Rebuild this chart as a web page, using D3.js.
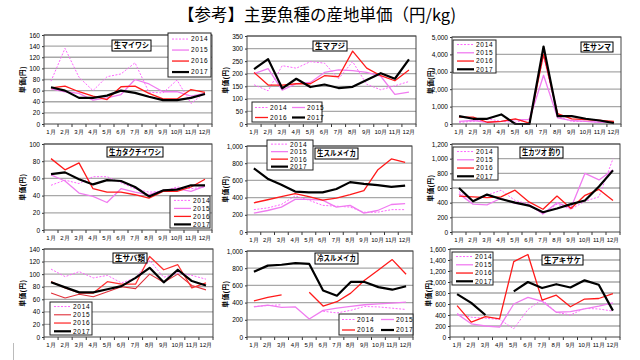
<!DOCTYPE html>
<html><head><meta charset="utf-8">
<script src="https://cdn.jsdelivr.net/npm/d3@7/dist/d3.min.js"></script>
<style>
html,body{margin:0;padding:0;background:#fff;}
svg{display:block;font-family:"Liberation Sans","Noto Sans CJK JP",sans-serif;}
</style></head><body>
<svg id="c" width="640" height="360"></svg>
<script>
const months = ["1月","2月","3月","4月","5月","6月","7月","8月","9月","10月","11月","12月"];
const years = ["2014","2015","2016","2017"];

// 生マイワシ
const maiwashi2014 = [77,136,84,60,85,90,110,57,56,79,37,56];
const maiwashi2015 = [63,58,55,43,47,53,80,72,58,58,50,55];
const maiwashi2016 = [65,68,58,50,44,67,68,55,45,45,62,57];
const maiwashi2017 = [66,60,47,47,51,60,56,49,43,43,47,54];
// 生マアジ
const maaji2014 = [156,132,232,222,248,242,180,248,158,136,152,169];
const maaji2015 = [200,220,135,160,165,205,215,212,205,190,118,127];
const maaji2016 = [205,155,155,160,160,192,188,290,222,192,172,215];
const maaji2017 = [218,258,142,180,147,157,143,148,175,202,180,257];
// 生サンマ
const sanma2014 = [100,150,300,150,100,300,3900,450,150,150,100,100];
const sanma2015 = [150,200,100,150,250,250,2800,350,200,150,100,100];
const sanma2016 = [400,400,100,150,300,50,4000,600,300,250,200,150];
const sanma2017 = [450,300,300,550,0,0,4450,450,450,300,200,50];
// 生カタクチイワシ
const katakuchi2014 = [52,58,54,62,62,55,48,44,45,50,48,50];
const katakuchi2015 = [64,57,43,39,32,48,44,41,46,48,45,51];
const katakuchi2016 = [83,70,78,48,44,44,41,37,45,45,50,59];
const katakuchi2017 = [65,67,59,53,58,57,50,39,46,47,52,52];
// 生スルメイカ
const surume2014 = [260,280,320,420,370,310,300,290,230,230,260,260];
const surume2015 = [220,250,290,380,380,370,290,310,220,250,320,330];
const surume2016 = [340,375,410,445,410,370,395,435,480,720,850,810];
const surume2017 = [740,620,550,470,460,460,500,580,560,545,525,540];
// 生カツオ釣り
const katsuo2014 = [550,420,500,570,430,380,240,380,310,420,480,1000];
const katsuo2015 = [520,380,370,460,390,370,250,400,330,800,710,850];
const katsuo2016 = [490,480,470,480,570,410,310,490,320,500,580,430];
const katsuo2017 = [600,420,510,450,400,360,270,320,380,430,620,840];
// 生サバ類
const saba2014 = [108,96,104,94,98,86,94,122,95,102,98,92];
const saba2015 = [70,62,68,64,72,80,77,100,87,100,82,75];
const saba2016 = [88,78,70,70,88,84,84,128,107,115,78,86];
const saba2017 = [87,79,71,71,76,81,94,110,87,107,89,82];
// 冷スルメイカ
const reisurume2014 = [355,365,375,null,null,300,280,310,355,350,335,320];
const reisurume2015 = [350,370,345,350,210,310,335,355,375,385,395,405];
const reisurume2016 = [420,460,490,null,520,360,410,510,660,780,900,730];
const reisurume2017 = [760,830,840,860,850,540,480,640,640,580,550,590];
// 生アキサケ
const akisake2014 = [420,360,340,320,150,500,680,450,400,520,510,470];
const akisake2015 = [420,240,200,180,600,720,650,450,460,510,560,620];
const akisake2016 = [570,270,370,330,1370,1500,670,760,550,690,700,790];
const akisake2017 = [780,620,400,null,830,1000,890,960,900,1030,950,480];

const styles = {
  "2014": {color:"#ff66ff", w:1, dash:"2,1.5"},
  "2015": {color:"#f07cf0", w:1.3, dash:null},
  "2016": {color:"#ff1a1a", w:1.3, dash:null},
  "2017": {color:"#000000", w:2.2, dash:null}
};
const sabaStyles = Object.assign({}, styles, {"2015": {color:"#e0303a", w:1.1, dash:null}, "2016": {color:"#ff3333", w:1.3, dash:null}});

const panels = [
 {name:"生マイワシ", series:[maiwashi2014,maiwashi2015,maiwashi2016,maiwashi2017], ymax:160, step:20, x0:44, x1:212, yt:35, yb:124, leg:{x:168,y:33,w:43,h:44,type:"col"}, tb:{x:112,y:40,w:39,h:11}},
 {name:"生マアジ", series:[maaji2014,maaji2015,maaji2016,maaji2017], ymax:350, step:50, x0:247, x1:416, yt:36, yb:124, leg:{x:252,y:102,w:70,h:20,type:"grid"}, tb:{x:313,y:41,w:34,h:10}},
 {name:"生サンマ", series:[sanma2014,sanma2015,sanma2016,sanma2017], ymax:5000, step:1000, x0:452, x1:621, yt:37, yb:124, leg:{x:453,y:40,w:43,h:33,type:"col"}, tb:{x:581,y:42,w:32,h:10}},
 {name:"生カタクチイワシ", series:[katakuchi2014,katakuchi2015,katakuchi2016,katakuchi2017], ymax:100, step:20, x0:44, x1:212, yt:144, yb:230, leg:{x:170,y:196,w:40,h:32,type:"col"}, tb:{x:107,y:147,w:56,h:10}},
 {name:"生スルメイカ", series:[surume2014,surume2015,surume2016,surume2017], ymax:1000, step:200, x0:247, x1:412, yt:146, yb:232, leg:{x:267,y:140,w:46,h:30,type:"col"}, tb:{x:315,y:148,w:43,h:11}},
 {name:"生カツオ 釣り", series:[katsuo2014,katsuo2015,katsuo2016,katsuo2017], ymax:1200, step:200, x0:452, x1:620, yt:144, yb:232, leg:{x:453,y:147,w:45,h:33,type:"col"}, tb:{x:520,y:147,w:43,h:11}},
 {name:"生サバ類", series:[saba2014,saba2015,saba2016,saba2017], ymax:140, step:20, x0:44, x1:213, yt:249, yb:337, leg:{x:50,y:302,w:42,h:33,type:"col"}, tb:{x:113,y:253,w:34,h:10}, styles:sabaStyles},
 {name:"冷スルメイカ", series:[reisurume2014,reisurume2015,reisurume2016,reisurume2017], ymax:1000, step:200, x0:247, x1:413, yt:251, yb:337, leg:{x:339,y:314,w:74,h:21,type:"grid"}, tb:{x:315,y:253,w:43,h:11}},
 {name:"生アキサケ", series:[akisake2014,akisake2015,akisake2016,akisake2017], ymax:1600, step:200, x0:450, x1:620, yt:249, yb:337, leg:{x:452,y:252,w:41,h:33,type:"col"}, tb:{x:542,y:255,w:41,h:10}}
];

const svg = d3.select("#c");

svg.append("text").attr("x",317).attr("y",21).attr("text-anchor","middle")
  .attr("font-size",16.5).attr("font-family","'Noto Sans CJK JP',sans-serif").attr("fill","#000")
  .text("【参考】主要魚種の産地単価（円/kg)");

panels.forEach(p => {
  const st = p.styles || styles;
  const g = svg.append("g");
  const x = d3.scaleBand().domain(months).range([p.x0, p.x1]).paddingInner(0).paddingOuter(0);
  const y = d3.scaleLinear().domain([0, p.ymax]).range([p.yb, p.yt]);
  const ticks = d3.range(0, p.ymax + p.step/2, p.step);
  const fmt = p.ymax >= 1000 ? d3.format(",") : d3.format("d");

  g.append("rect").attr("x",p.x0).attr("y",p.yt).attr("width",p.x1-p.x0).attr("height",p.yb-p.yt).attr("fill","#fff");
  g.selectAll("line.grid").data(ticks.filter(t => t>0)).join("line")
    .attr("x1",p.x0).attr("x2",p.x1).attr("y1",d=>y(d)).attr("y2",d=>y(d))
    .attr("stroke","#a8a8a8").attr("stroke-width",1.3);

  const ya = g.append("g").attr("transform",`translate(${p.x0},0)`)
    .call(d3.axisLeft(y).tickValues(ticks).tickFormat(fmt).tickSize(2).tickPadding(2));
  ya.select(".domain").remove();
  ya.selectAll("line").attr("stroke","#333");
  ya.selectAll("text").attr("font-size",6.5).attr("fill","#000").attr("font-family","'Liberation Sans',sans-serif");

  const xa = g.append("g").attr("transform",`translate(0,${p.yb})`)
    .call(d3.axisBottom(x).tickSize(0).tickPadding(6));
  xa.select(".domain").remove();
  xa.selectAll("text").attr("font-size",6).attr("fill","#000");
  g.selectAll("line.xt").data(d3.range(13)).join("line")
    .attr("x1",i=>p.x0 + i*x.step()).attr("x2",i=>p.x0 + i*x.step())
    .attr("y1",p.yb).attr("y2",p.yb+3).attr("stroke","#333").attr("stroke-width",1);

  g.append("text").attr("transform",`translate(${p.x0-19},${(p.yt+p.yb)/2}) rotate(-90)`)
    .attr("text-anchor","middle").attr("font-size",6.5).attr("font-weight","bold").attr("fill","#000")
    .attr("letter-spacing",0.6).text("単価(円)");

  const line = d3.line().defined(d => d.v != null)
    .x(d => x(d.m) + x.bandwidth()/2).y(d => y(d.v));
  p.series.forEach((s, i) => {
    const yr = years[i], sty = st[yr];
    g.append("path").datum(months.map((m,j)=>({m, v:s[j]})))
      .attr("d", line).attr("fill","none").attr("stroke",sty.color)
      .attr("stroke-width",sty.w).attr("stroke-dasharray",sty.dash)
      .attr("stroke-linejoin","round");
  });

  g.append("rect").attr("x",p.x0).attr("y",p.yt).attr("width",p.x1-p.x0).attr("height",p.yb-p.yt)
    .attr("fill","none").attr("stroke","#444").attr("stroke-width",1);

  const L = p.leg;
  const lg = g.append("g");
  lg.append("rect").attr("x",L.x).attr("y",L.y).attr("width",L.w).attr("height",L.h)
    .attr("fill","#fff").attr("stroke","#222").attr("stroke-width",1);
  years.forEach((yr,i) => {
    const sty = st[yr];
    let lx, ly, len;
    if (L.type === "grid") {
      len = 13;
      lx = L.x + 3 + (i%2)*(L.w/2 + 2);
      ly = L.y + 5.5 + Math.floor(i/2)*(L.h/2);
    } else {
      len = 17;
      lx = L.x + 4;
      ly = L.y + (i+0.55)*(L.h/4);
    }
    lg.append("line").attr("x1",lx).attr("x2",lx+len).attr("y1",ly).attr("y2",ly)
      .attr("stroke",sty.color).attr("stroke-width",sty.w).attr("stroke-dasharray",sty.dash);
    lg.append("text").attr("x",lx+len+2).attr("y",ly+2.4).attr("font-size",6.5).attr("letter-spacing",0.7)
      .attr("fill","#000").text(yr);
  });

  const T = p.tb;
  g.append("rect").attr("x",T.x).attr("y",T.y).attr("width",T.w).attr("height",T.h)
    .attr("fill","#fff").attr("stroke","#000").attr("stroke-width",1);
  g.append("text").attr("x",T.x+2).attr("y",T.y+T.h/2+2.8)
    .attr("font-size",7.5).attr("font-weight","bold").attr("fill","#000")
    .attr("textLength",T.w-4).attr("lengthAdjust","spacingAndGlyphs")
    .attr("font-family","'Noto Sans CJK JP',sans-serif").text(p.name);
});

svg.append("line").attr("x1",13.5).attr("x2",13.5).attr("y1",343).attr("y2",360).attr("stroke","#bbb");
</script>
</body></html>
